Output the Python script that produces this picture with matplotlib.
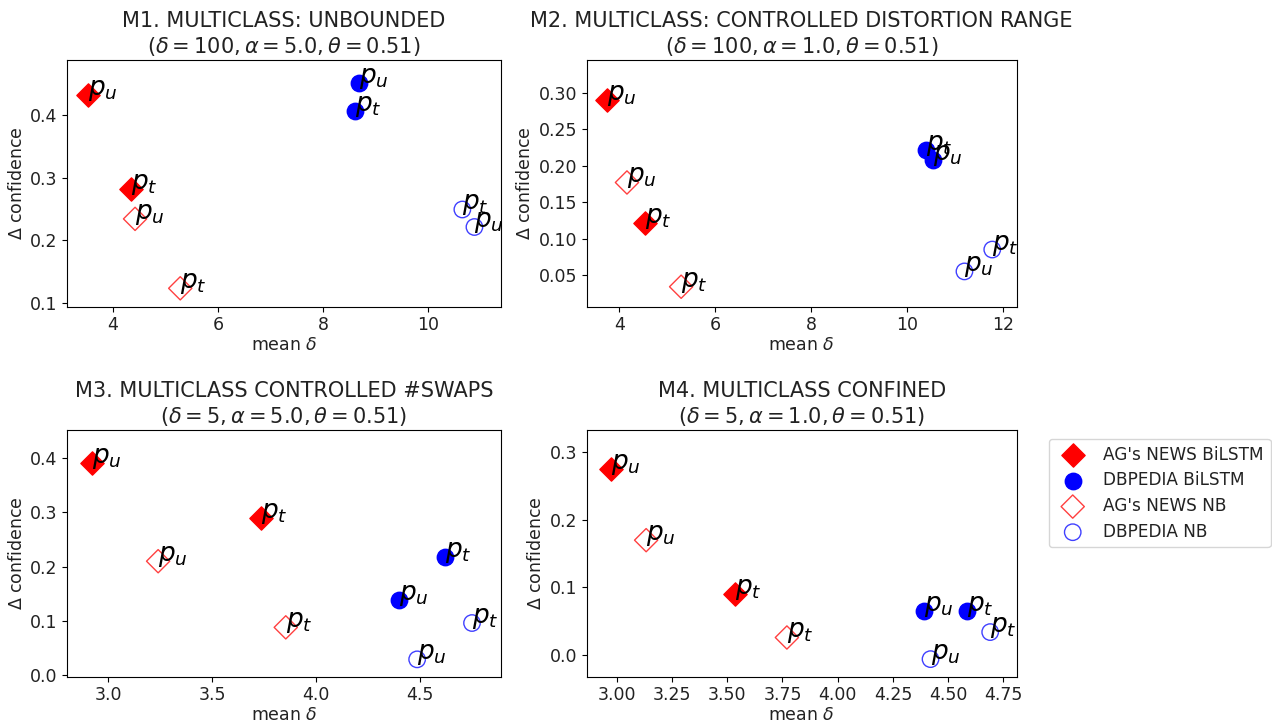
import matplotlib
matplotlib.use("Agg")
import matplotlib.pyplot as plt

W, H = 1272, 725

series_names = ["AG's NEWS BiLSTM", "DBPEDIA BiLSTM", "AG's NEWS NB", "DBPEDIA NB"]

titles = [
    "M1. MULTICLASS: UNBOUNDED\n" + r"$(\delta=100, \alpha=5.0, \theta=0.51)$",
    "M2. MULTICLASS: CONTROLLED DISTORTION RANGE\n" + r"$(\delta=100, \alpha=1.0, \theta=0.51)$",
    "M3. MULTICLASS CONTROLLED #SWAPS\n" + r"$(\delta=5, \alpha=5.0, \theta=0.51)$",
    "M4. MULTICLASS CONFINED\n" + r"$(\delta=5, \alpha=1.0, \theta=0.51)$",
]

# per panel, per series: (mean delta, delta confidence) for p_t and p_u
m1_pt = {"AG's NEWS BiLSTM": (4.34, 0.281), "DBPEDIA BiLSTM": (8.61, 0.406),
         "AG's NEWS NB": (5.28, 0.123), "DBPEDIA NB": (10.65, 0.249)}
m1_pu = {"AG's NEWS BiLSTM": (3.52, 0.432), "DBPEDIA BiLSTM": (8.69, 0.451),
         "AG's NEWS NB": (4.42, 0.234), "DBPEDIA NB": (10.88, 0.221)}

m2_pt = {"AG's NEWS BiLSTM": (4.54, 0.122), "DBPEDIA BiLSTM": (10.40, 0.222),
         "AG's NEWS NB": (5.29, 0.034), "DBPEDIA NB": (11.78, 0.085)}
m2_pu = {"AG's NEWS BiLSTM": (3.74, 0.290), "DBPEDIA BiLSTM": (10.54, 0.208),
         "AG's NEWS NB": (4.16, 0.177), "DBPEDIA NB": (11.20, 0.055)}

m3_pt = {"AG's NEWS BiLSTM": (3.734, 0.289), "DBPEDIA BiLSTM": (4.62, 0.218),
         "AG's NEWS NB": (3.854, 0.088), "DBPEDIA NB": (4.75, 0.096)}
m3_pu = {"AG's NEWS BiLSTM": (2.92, 0.392), "DBPEDIA BiLSTM": (4.40, 0.138),
         "AG's NEWS NB": (3.24, 0.210), "DBPEDIA NB": (4.486, 0.029)}

m4_pt = {"AG's NEWS BiLSTM": (3.535, 0.090), "DBPEDIA BiLSTM": (4.584, 0.065),
         "AG's NEWS NB": (3.77, 0.026), "DBPEDIA NB": (4.69, 0.034)}
m4_pu = {"AG's NEWS BiLSTM": (2.973, 0.276), "DBPEDIA BiLSTM": (4.392, 0.065),
         "AG's NEWS NB": (3.133, 0.170), "DBPEDIA NB": (4.42, -0.006)}

panels_pt = [m1_pt, m2_pt, m3_pt, m4_pt]
panels_pu = [m1_pu, m2_pu, m3_pu, m4_pu]

xlims = [(3.13, 11.38), (3.32, 12.29), (2.803, 4.888), (2.864, 4.81)]
ylims = [(0.0936, 0.488), (0.0066, 0.345), (-0.003, 0.452), (-0.032, 0.333)]
xticks = [[4, 6, 8, 10], [4, 6, 8, 10, 12], [3.0, 3.5, 4.0, 4.5],
          [3.0, 3.25, 3.5, 3.75, 4.0, 4.25, 4.5, 4.75]]
yticks = [[0.1, 0.2, 0.3, 0.4], [0.05, 0.10, 0.15, 0.20, 0.25, 0.30],
          [0.0, 0.1, 0.2, 0.3, 0.4], [0.0, 0.1, 0.2, 0.3]]

styles = {
    "AG's NEWS BiLSTM": dict(marker="D", c="red"),
    "DBPEDIA BiLSTM": dict(marker="o", c="blue"),
    "AG's NEWS NB": dict(marker="D", facecolors="none", edgecolors="red", alpha=0.75),
    "DBPEDIA NB": dict(marker="o", facecolors="none", edgecolors="blue", alpha=0.75),
}

# axes boxes in pixels: left, top, right, bottom
boxes = [(67.3, 60, 500.7, 306.7), (586.7, 60, 1016.7, 306.7),
         (67.3, 430, 500.7, 676.7), (586.7, 430, 1016.7, 676.7)]

plt.rcParams["text.color"] = "#222222"
plt.rcParams["axes.labelcolor"] = "#222222"
plt.rcParams["xtick.labelcolor"] = "#222222"
plt.rcParams["ytick.labelcolor"] = "#222222"

fig = plt.figure(figsize=(W / 100, H / 100), dpi=100)

for i in range(4):
    l, t, r, b = boxes[i]
    ax = fig.add_axes([l / W, 1 - b / H, (r - l) / W, (b - t) / H])
    for name in series_names:
        pts = [panels_pt[i][name], panels_pu[i][name]]
        ax.scatter([p[0] for p in pts], [p[1] for p in pts], s=140,
                   label=name, **styles[name])
        ax.text(pts[0][0], pts[0][1], "$p_t$", fontsize=19, color="black")
        ax.text(pts[1][0], pts[1][1], "$p_u$", fontsize=19, color="black")
    ax.set_xlim(xlims[i])
    ax.set_ylim(ylims[i])
    ax.set_xticks(xticks[i])
    ax.set_yticks(yticks[i])
    ax.tick_params(labelsize=12.5)
    ax.set_title(titles[i], fontsize=15, pad=5)
    ax.set_xlabel(r"mean $\delta$", fontsize=12.5, labelpad=1)
    ax.set_ylabel(r"$\Delta$ confidence", fontsize=12.5, labelpad=3)
    if i == 3:
        ax.legend(loc="upper left", bbox_to_anchor=(1049 / W, 1 - 439 / H),
                  bbox_transform=fig.transFigure, borderaxespad=0,
                  fontsize=12.2, scatterpoints=1, labelspacing=0.45)

fig.savefig("out.png", dpi=100)
